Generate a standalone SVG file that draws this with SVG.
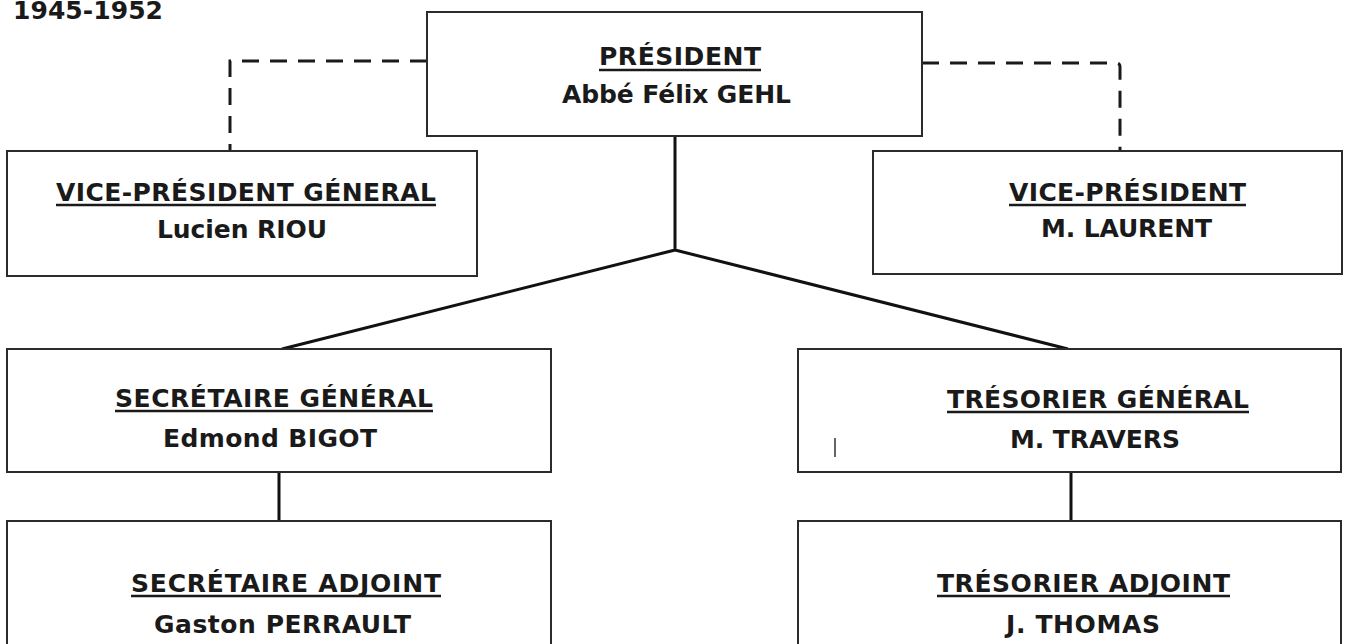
<svg xmlns="http://www.w3.org/2000/svg" width="1348" height="644" viewBox="0 0 1348 644">
<style>
.box{fill:#fff;stroke:#2b2b2b;stroke-width:2}
.t{font-family:"DejaVu Sans","Liberation Sans",sans-serif;font-weight:bold;font-stretch:normal;font-size:25px;fill:#1a1a1a}
.ul{stroke:#1a1a1a;stroke-width:2.5}
.ln{fill:none;stroke:#111;stroke-width:3}
.dash{fill:none;stroke:#1a1a1a;stroke-width:3;stroke-dasharray:17 11}
</style>
<rect width="1348" height="644" fill="#fff"/>
<text class="t" x="13" y="19" textLength="150">1945-1952</text>
<g id="connectors">
<path class="dash" d="M427,61 H230 V150"/>
<path class="dash" d="M922,63 H1116 Q1120,63 1120,67 V150"/>
<path class="ln" d="M675,136 V250 L282,349 M675,250 L1068,349"/>
<path class="ln" d="M279,472 V521"/>
<path class="ln" d="M1071,472 V521"/>
</g>
<g id="president">
<rect class="box" x="427" y="12" width="495" height="124"/>
<text class="t" x="599" y="65" textLength="162">PRÉSIDENT</text>
<line class="ul" x1="599" y1="70" x2="761" y2="70"/>
<text class="t" x="562" y="103" textLength="229">Abbé Félix GEHL</text>
</g>
<g id="vp-general">
<rect class="box" x="7" y="151" width="470" height="125"/>
<text class="t" x="56" y="201" textLength="380">VICE-PRÉSIDENT GÉNERAL</text>
<line class="ul" x1="56" y1="205" x2="436" y2="205"/>
<text class="t" x="157" y="238" textLength="170">Lucien RIOU</text>
</g>
<g id="vp">
<rect class="box" x="873" y="151" width="469" height="123"/>
<text class="t" x="1009" y="201" textLength="237">VICE-PRÉSIDENT</text>
<line class="ul" x1="1009" y1="205" x2="1246" y2="205"/>
<text class="t" x="1041" y="237" textLength="171">M. LAURENT</text>
</g>
<g id="secretaire-general">
<rect class="box" x="7" y="349" width="544" height="123"/>
<text class="t" x="115" y="407" textLength="318">SECRÉTAIRE GÉNÉRAL</text>
<line class="ul" x1="115" y1="411" x2="433" y2="411"/>
<text class="t" x="163" y="447" textLength="214">Edmond BIGOT</text>
</g>
<g id="tresorier-general">
<rect class="box" x="798" y="349" width="543" height="123"/>
<text class="t" x="947" y="408" textLength="302">TRÉSORIER GÉNÉRAL</text>
<line class="ul" x1="947" y1="412" x2="1249" y2="412"/>
<text class="t" x="1010" y="448" textLength="170">M. TRAVERS</text>
<line x1="835" y1="438" x2="835" y2="457" stroke="#333" stroke-width="1.5"/>
</g>
<g id="secretaire-adjoint">
<rect class="box" x="7" y="521" width="544" height="130"/>
<text class="t" x="131" y="592" textLength="310">SECRÉTAIRE ADJOINT</text>
<line class="ul" x1="131" y1="596" x2="441" y2="596"/>
<text class="t" x="154" y="633" textLength="257">Gaston PERRAULT</text>
</g>
<g id="tresorier-adjoint">
<rect class="box" x="798" y="521" width="543" height="130"/>
<text class="t" x="937" y="592" textLength="293">TRÉSORIER ADJOINT</text>
<line class="ul" x1="937" y1="596" x2="1230" y2="596"/>
<text class="t" x="1006" y="633" textLength="154">J. THOMAS</text>
</g>
</svg>
